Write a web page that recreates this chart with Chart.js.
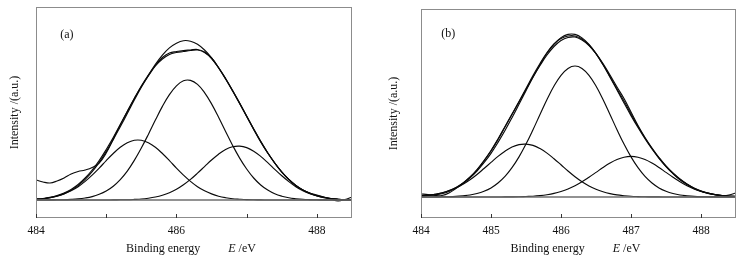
<!DOCTYPE html>
<html>
<head>
<meta charset="utf-8">
<script src="https://cdn.jsdelivr.net/npm/chart.js@4.4.0/dist/chart.umd.min.js"></script>
<style>
  html, body { margin: 0; padding: 0; background: #fff; }
  #wrap { position: relative; width: 746px; height: 262px; }
  .box { position: absolute; top: 0; width: 373px; height: 262px; }
</style>
</head>
<body>
<div id="wrap">
  <div class="box" style="left:0"><canvas id="chartA" width="373" height="262"></canvas></div>
  <div class="box" style="left:373px"><canvas id="chartB" width="373" height="262"></canvas></div>
</div>
<script>
// binding energy (eV)
const energy = [
  484.0, 484.1, 484.2, 484.3, 484.4, 484.5, 484.6, 484.7, 484.8, 484.9,
  485.0, 485.1, 485.2, 485.3, 485.4, 485.5, 485.6, 485.7, 485.8, 485.9,
  486.0, 486.1, 486.2, 486.3, 486.4, 486.5, 486.6, 486.7, 486.8, 486.9,
  487.0, 487.1, 487.2, 487.3, 487.4, 487.5, 487.6, 487.7, 487.8, 487.9,
  488.0, 488.1, 488.2, 488.3, 488.4, 488.5
];
const bgEnergy = [484.0, 488.5];
const background = [0, 0];

// (a)
const rawA = [20, 18, 17, 19, 22, 26, 28.5, 30, 32.5, 37,
  47, 61, 75, 88.5, 101.5, 113.5, 124, 134, 141, 145.5,
  147.5, 148.5, 149.5, 150, 147.5, 141.5, 132, 121, 109, 96.5,
  83.5, 70.5, 58, 47, 37, 28, 20.5, 14.5, 10, 7,
  5, 3, 1, -1, 0.5, 3];
const smoothA = [1, 1.5, 2.6, 4.4, 7, 10.6, 15.5, 22, 30, 39.5,
  50.5, 62.5, 75.5, 88.5, 101.5, 114, 125, 134.5, 142.5, 147,
  148.5, 149.5, 150, 150.5, 148, 142, 132.5, 121.5, 109.5, 97,
  84, 71, 58.5, 47, 37, 28, 20.5, 14.5, 10, 6.8,
  4.4, 2.7, 1.5, 0.8, 0.4, 0.2];
const fitA = [0.8, 1.3, 2.4, 4.0, 6.4, 9.8, 14.4, 20.6, 28.3, 37.6,
  48.4, 60.4, 73.3, 86.4, 99.9, 112.7, 124.6, 135.6, 144.9, 152.1,
  156.8, 159.3, 158.8, 155.7, 150.0, 142.2, 132.3, 121.3, 109.2, 96.6,
  83.8, 71.0, 58.7, 47.3, 36.9, 28.0, 20.6, 14.6, 9.9, 6.6,
  4.2, 2.5, 1.4, 0.8, 0.4, 0.2];
const peak1A = [0.8, 1.3, 2.3, 3.8, 6.1, 9.2, 13.3, 18.6, 24.9, 31.9,
  39.4, 46.5, 52.7, 57.2, 59.7, 59.7, 57.2, 52.7, 46.5, 39.4,
  31.9, 24.9, 18.6, 13.3, 9.2, 6.1, 3.8, 2.3, 1.3, 0.8,
  0.4, 0.2, 0.1, 0, 0, 0, 0, 0, 0, 0,
  0, 0, 0, 0, 0, 0];
const peak2A = [0, 0, 0.1, 0.2, 0.3, 0.6, 1.1, 2.0, 3.4, 5.7,
  9.0, 13.8, 20.4, 28.9, 39.6, 52.0, 65.6, 79.9, 93.6, 105.4,
  114.2, 119.2, 119.6, 115.6, 107.4, 96.1, 82.7, 68.5, 54.6, 41.9,
  31.0, 22.0, 15.0, 9.9, 6.2, 3.8, 2.2, 1.3, 0.7, 0.4,
  0.2, 0.1, 0, 0, 0, 0];
const peak3A = [0, 0, 0, 0, 0, 0, 0, 0, 0, 0,
  0, 0.1, 0.2, 0.3, 0.6, 1.0, 1.8, 3.0, 4.8, 7.3,
  10.7, 15.2, 20.6, 26.8, 33.4, 40.0, 45.8, 50.5, 53.3, 53.9,
  52.4, 48.8, 43.6, 37.4, 30.7, 24.2, 18.4, 13.3, 9.2, 6.2,
  4.0, 2.4, 1.4, 0.8, 0.4, 0.2];

// (b)
const rawB = [3, 2.5, 1.5, 1.5, 4, 8.5, 13.5, 19.5, 27, 36,
  46, 57.5, 70, 82.5, 95, 107.5, 120, 131.5, 142, 150.5,
  156.5, 159.5, 160, 157, 151.5, 143.5, 133.5, 122, 110, 98.5,
  85, 71.5, 59.5, 49, 39.5, 31, 24, 18, 13, 9,
  6, 4, 2.5, 1.5, 2, 4];
const smoothB = [1.5, 1.8, 2.2, 3.2, 5.5, 9.3, 14, 20, 27.5, 36.5,
  46.5, 58, 70.5, 83, 95.5, 108.5, 121.5, 133.5, 144.5, 153,
  158.5, 161, 161, 158, 152, 143.3, 132.5, 120.5, 108, 96,
  83, 70.5, 59, 48.5, 39, 30.7, 23.6, 17.5, 12.7, 8.8,
  5.9, 3.9, 2.4, 1.4, 0.9, 0.6];
const fitB = [0.9, 1.6, 2.6, 4.2, 6.5, 9.6, 13.9, 19.2, 26.0, 34.3,
  43.7, 54.6, 66.5, 79.3, 92.7, 106.3, 119.7, 132.3, 143.7, 152.9,
  159.4, 162.6, 162.6, 159.1, 152.6, 143.3, 132.2, 119.8, 106.9, 94.0,
  81.4, 69.5, 58.3, 48.0, 38.7, 30.4, 23.3, 17.2, 12.5, 8.6,
  5.8, 3.8, 2.4, 1.4, 0.8, 0.5];
const peak1B = [0.9, 1.6, 2.6, 4.0, 6.2, 9.0, 12.7, 17.2, 22.5, 28.5,
  34.6, 40.6, 45.8, 49.9, 52.4, 52.9, 51.6, 48.4, 43.9, 38.3,
  32.2, 26.0, 20.3, 15.3, 11.1, 7.7, 5.2, 3.4, 2.1, 1.3,
  0.7, 0.4, 0.2, 0.1, 0.1, 0, 0, 0, 0, 0,
  0, 0, 0, 0, 0, 0];
const peak2B = [0, 0, 0.1, 0.2, 0.3, 0.6, 1.2, 2.0, 3.5, 5.8,
  9.1, 14.0, 20.6, 29.3, 40.1, 52.9, 67.3, 82.5, 97.5, 111.0,
  121.7, 128.6, 131, 128.6, 121.7, 111.0, 97.5, 82.5, 67.3, 52.9,
  40.1, 29.3, 20.6, 14.0, 9.1, 5.8, 3.5, 2.0, 1.2, 0.6,
  0.3, 0.2, 0.1, 0, 0, 0];
const peak3B = [0, 0, 0, 0, 0, 0, 0, 0, 0, 0,
  0, 0, 0.1, 0.1, 0.2, 0.5, 0.8, 1.4, 2.3, 3.6,
  5.5, 8.0, 11.3, 15.2, 19.8, 24.6, 29.5, 33.9, 37.5, 39.8,
  40.6, 39.8, 37.5, 33.9, 29.5, 24.6, 19.8, 15.2, 11.3, 8.0,
  5.5, 3.6, 2.3, 1.4, 0.8, 0.5];

const serif = '"Liberation Serif", "Times New Roman", serif';
const lineColor = '#0a0a0a';

function toPoints(xs, ys) {
  return xs.map((x, i) => ({ x: x, y: ys[i] }));
}

function curve(ys) {
  return {
    data: toPoints(energy, ys),
    borderColor: lineColor,
    borderWidth: 1.15,
    pointRadius: 0,
    tension: 0.4,
    fill: false
  };
}

// frame, inward ticks, panel letter and x title
const decorPlugin = {
  id: 'decor',
  afterDraw(chart, args, opts) {
    const { ctx, chartArea: a, scales: { x, y } } = chart;
    ctx.save();
    ctx.strokeStyle = '#8c8c8c';
    ctx.lineWidth = 1;
    ctx.strokeRect(a.left + 0.5, a.top + 0.5, a.right - a.left - 1, a.bottom - a.top - 1);

    ctx.strokeStyle = '#333';
    x.ticks.forEach(t => {
      const px = Math.round(x.getPixelForValue(t.value)) + 0.5;
      ctx.beginPath();
      ctx.moveTo(px, a.bottom);
      ctx.lineTo(px, a.bottom - 4);
      ctx.stroke();
    });

    ctx.fillStyle = '#111';
    ctx.font = '12px ' + serif;
    ctx.textAlign = 'center';
    ctx.textBaseline = 'middle';
    ctx.fillText(opts.label, x.getPixelForValue(opts.labelX), y.getPixelForValue(opts.labelY));

    // x title with italic E
    ctx.textAlign = 'left';
    ctx.textBaseline = 'alphabetic';
    const part1 = 'Binding energy';
    const part2 = ' /eV';
    ctx.font = '12px ' + serif;
    const w1 = ctx.measureText(part1).width;
    const w3 = ctx.measureText(part2).width;
    ctx.font = 'italic 12px ' + serif;
    const w2 = ctx.measureText('E').width;
    const gap = 28;
    let sx = (a.left + a.right) / 2 - 3 - (w1 + gap + w2 + w3) / 2;
    const sy = a.bottom + 34;
    ctx.font = '12px ' + serif;
    ctx.fillText(part1, sx, sy);
    sx += w1 + gap;
    ctx.font = 'italic 12px ' + serif;
    ctx.fillText('E', sx, sy);
    sx += w2;
    ctx.font = '12px ' + serif;
    ctx.fillText(part2, sx, sy);
    ctx.restore();
  }
};

function makeChart(id, lines, yMin, yMax, cfg) {
  const datasets = lines.map(curve);
  datasets.unshift({
    data: toPoints(bgEnergy, background),
    borderColor: '#6e6e6e',
    borderWidth: 1.4,
    pointRadius: 0,
    fill: false
  });
  return new Chart(document.getElementById(id), {
    type: 'line',
    data: { datasets },
    plugins: [decorPlugin],
    options: {
      responsive: false,
      animation: false,
      layout: { padding: { left: 0, right: cfg.padRight, top: cfg.padTop, bottom: 0 } },
      plugins: {
        legend: { display: false },
        tooltip: { enabled: false },
        decor: { label: cfg.label, labelX: cfg.labelX, labelY: cfg.labelY }
      },
      scales: {
        x: {
          type: 'linear',
          min: 484,
          max: 488.5,
          grid: { display: false, drawTicks: false },
          border: { display: false },
          ticks: {
            stepSize: 1,
            includeBounds: false,
            autoSkip: false,
            maxRotation: 0,
            padding: 6,
            color: '#111',
            font: { family: serif, size: 11.5 },
            callback: cfg.tickLabel
          },
          afterFit: s => { s.height = 44; }
        },
        y: {
          min: yMin,
          max: yMax,
          grid: { display: false, drawTicks: false },
          border: { display: false },
          ticks: { display: false },
          title: {
            display: true,
            text: 'Intensity /(a.u.)',
            color: '#111',
            font: { family: serif, size: 12 },
            padding: { top: cfg.titlePad, bottom: 0 }
          },
          afterFit: s => { s.width = cfg.axisWidth; }
        }
      }
    }
  });
}

makeChart('chartA', [peak1A, peak2A, peak3A, fitA, smoothA, rawA], -18, 193, {
  padRight: 21, padTop: 7, axisWidth: 36, titlePad: 8,
  label: '(a)', labelX: 484.44, labelY: 165,
  tickLabel: v => (v % 2 === 0 ? v : '')
});

makeChart('chartB', [peak1B, peak2B, peak3B, fitB, smoothB, rawB], -21, 188, {
  padRight: 10, padTop: 9, axisWidth: 48, titlePad: 14,
  label: '(b)', labelX: 484.39, labelY: 163,
  tickLabel: v => v
});
</script>
</body>
</html>
